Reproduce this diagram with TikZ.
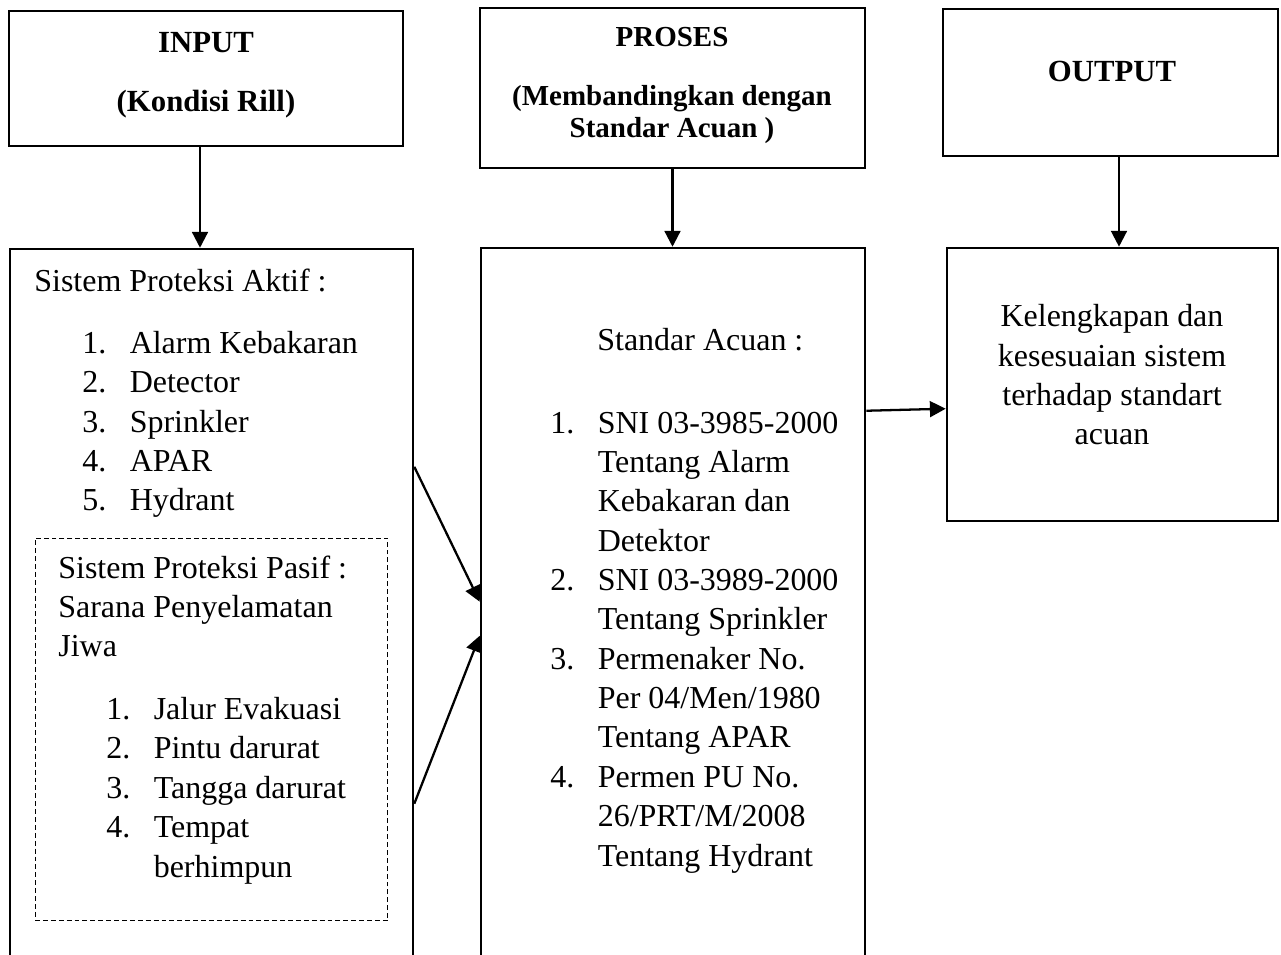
\documentclass[tikz,border=0pt]{standalone}
\usepackage{fontspec}
\setmainfont{Liberation Serif}
\usetikzlibrary{calc,arrows.meta}

\newcommand{\itemno}[1]{\makebox[27pt][l]{#1}}

\begin{document}
\begin{tikzpicture}[x=0.02cm,y=-0.02cm]

  \tikzstyle{framebox}=[draw,rectangle,line width=1.5pt,inner sep=0pt]
  \tikzstyle{dashbox}=[draw,rectangle,line width=0.6pt,dash pattern=on 2.8pt off 1.7pt,inner sep=0pt]
  \tikzstyle{headtext}=[font=\fontsize{17.5}{21}\selectfont\bfseries,align=center,inner sep=0pt,anchor=base]
  \tikzstyle{bodytext}=[font=\fontsize{18.2}{22.4}\selectfont,align=left,inner sep=0pt,anchor=base west]
  \tikzstyle{pointer}=[draw,-{Triangle[length=9pt,width=9pt]},line width=1.3pt]

  \useasboundingbox (0,0) rectangle (1281,955);
  \clip (0,0) rectangle (1281,955);

  % boxes
  \node[framebox,minimum width=7.88cm,minimum height=2.70cm] (inbox)   at (206,78.5)   {};
  \node[framebox,minimum width=7.70cm,minimum height=3.20cm] (procbox) at (672.5,88)   {};
  \node[framebox,minimum width=6.70cm,minimum height=2.94cm] (outbox)  at (1110.5,82.5) {};

  \node[framebox,minimum width=8.06cm,minimum height=15.02cm] (aktif) at (211.5,624.5) {};
  \node[framebox,minimum width=7.68cm,minimum height=15.04cm] (acuan) at (673,624)     {};
  \node[framebox,minimum width=6.62cm,minimum height=5.46cm]  (hasil) at (1112.5,384.5) {};
  \node[dashbox,minimum width=7.06cm,minimum height=7.66cm]   (pasif) at (211.5,729.5) {};

  % titles (base = last line)
  \node[headtext] (intitle)   at (206,112)  {INPUT\\[13pt](Kondisi Rill)};
  \node[headtext,font=\fontsize{16.5}{18.7}\selectfont\bfseries] (proctitle) at (672,138)
    {PROSES\\[14.7pt](Membandingkan dengan\\Standar Acuan )};
  \node[headtext] (outtitle)  at (1112,82)  {OUTPUT};

  % texts
  \node[bodytext] (aktiftitle) at (34,292) {Sistem Proteksi Aktif :};
  \node[bodytext] (aktiflist)  at (82,511)
    {\itemno{1.}Alarm Kebakaran\\\itemno{2.}Detector\\\itemno{3.}Sprinkler\\\itemno{4.}APAR\\\itemno{5.}Hydrant};

  \node[bodytext] (pasiftitle) at (58,657) {Sistem Proteksi Pasif :\\Sarana Penyelamatan\\Jiwa};
  \node[bodytext] (pasiflist)  at (106,877)
    {\itemno{1.}Jalur Evakuasi\\\itemno{2.}Pintu darurat\\\itemno{3.}Tangga darurat\\\itemno{4.}Tempat\\\itemno{}berhimpun};

  \node[bodytext] (acuantitle) at (597,351) {Standar Acuan :};
  \node[bodytext] (acuanlist)  at (550,866)
    {\itemno{1.}SNI 03-3985-2000\\\itemno{}Tentang Alarm\\\itemno{}Kebakaran dan\\\itemno{}Detektor\\
     \itemno{2.}SNI 03-3989-2000\\\itemno{}Tentang Sprinkler\\
     \itemno{3.}Permenaker No.\\\itemno{}Per 04/Men/1980\\\itemno{}Tentang APAR\\
     \itemno{4.}Permen PU No.\\\itemno{}26/PRT/M/2008\\\itemno{}Tentang Hydrant};

  \node[bodytext,anchor=base,align=center] (hasiltext) at (1112,445)
    {Kelengkapan dan\\kesesuaian sistem\\terhadap standart\\acuan};

  % pointers
  \draw[pointer] ($(inbox.south)+(-6,0)$)   -- ($(inbox.south |- aktif.north)+(-6,0)$);
  \draw[pointer] (procbox.south) -- (procbox.south |- acuan.north);
  \draw[pointer] ($(outbox.south)+(8.5,0)$) -- ($(outbox.south |- hasil.north)+(8.5,0)$);
  \draw[pointer] ($(aktif.north east)+(0,219)$) -- ($(acuan.north west)+(0,355)$);
  \draw[pointer] ($(aktif.north east)+(0,556)$) -- ($(acuan.north west)+(0,389)$);
  \draw[pointer] ($(acuan.north east)+(0,164)$) -- ($(hasil.north west)+(0,162)$);

\end{tikzpicture}
\end{document}
